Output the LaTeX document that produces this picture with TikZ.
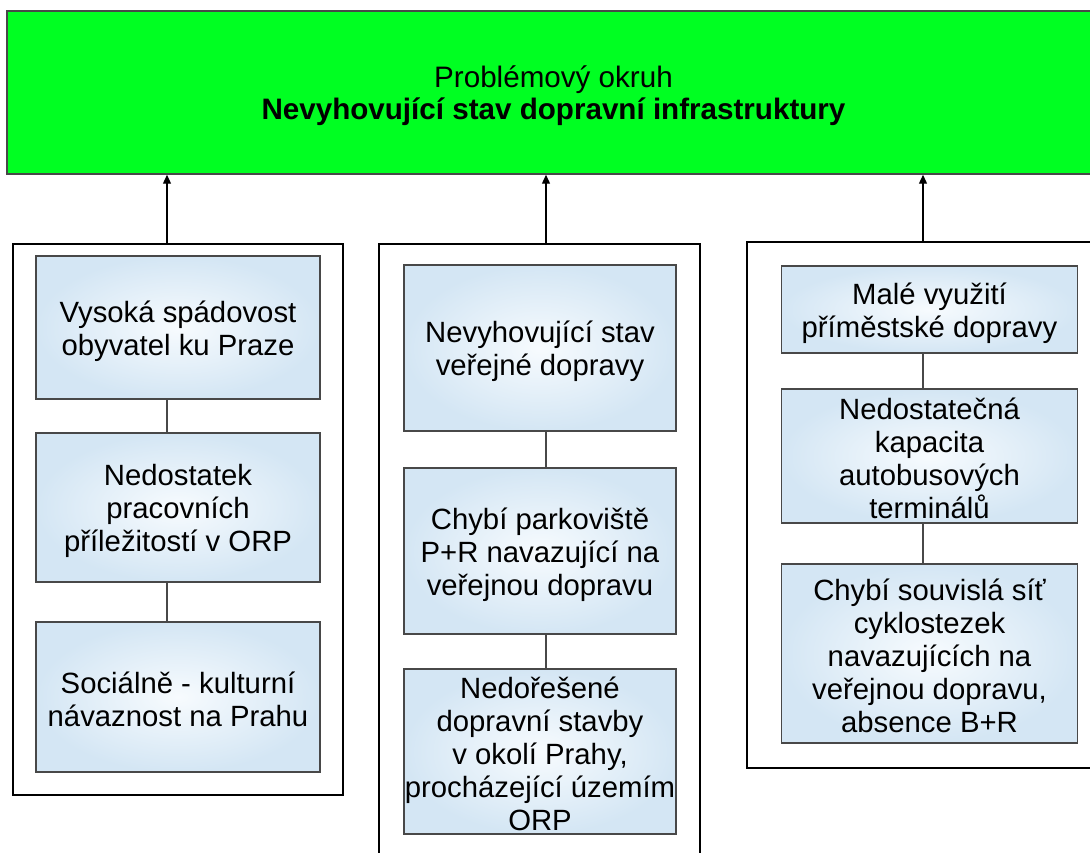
\documentclass[tikz,border=0pt]{standalone}
\usepackage{fontspec}
\setmainfont{Liberation Sans}
\usetikzlibrary{arrows.meta}
\definecolor{probgreen}{RGB}{0,255,34}
\definecolor{boxblue}{RGB}{212,230,244}
\definecolor{boxcore}{RGB}{247,251,254}
\definecolor{boxedge}{RGB}{72,72,72}
% struts keep first and last lines at fixed height and depth
\newcommand{\topln}{\rule{0pt}{29pt}}
\newcommand{\botln}{\rule[-4pt]{0pt}{4pt}}
\tikzset{
  causebox/.style={draw=boxedge, line width=1.6pt, inner color=boxcore, outer color=boxblue,
    align=center, inner sep=0pt, font=\fontsize{29.3}{33}\selectfont},
  groupbox/.style={draw=black, line width=2pt, inner sep=0pt},
  link/.style={draw=boxedge, line width=1.5pt},
  feeds/.style={draw=black, line width=1.3pt, -{Triangle[length=9pt,width=8pt]}},
}
\begin{document}
\begin{tikzpicture}[x=1pt,y=-1pt]
  \path[use as bounding box, fill=white] (0,0) rectangle (1090,853);
  \clip (0,0) rectangle (1090,853);

  % problem area
  \node[draw=boxedge, line width=1.5pt, fill=probgreen, minimum width=1093pt, minimum height=163pt,
        align=center, inner sep=0pt, font=\fontsize{29.6}{32}\selectfont] (prob) at (553.5,92.5)
    {\topln Problémový okruh\\\textbf{Nevyhovující stav dopravní infrastruktury}\botln};

  % groups
  \node[groupbox, minimum width=330pt, minimum height=551pt] (g1) at (178,519.5) {};
  \node[groupbox, minimum width=321pt, minimum height=636pt] (g2) at (539.5,562) {};
  \node[groupbox, minimum width=365pt, minimum height=526pt] (g3) at (929.5,505) {};

  \coordinate (ax1) at (167,0);
  \coordinate (ax2) at (546,0);
  \coordinate (ax3) at (923,0);

  % left column
  \node[causebox, minimum width=284pt, minimum height=143pt] (l1) at (178,327.5)
    {\topln Vysoká spádovost\\obyvatel ku Praze\botln};
  \node[causebox, minimum width=284pt, minimum height=149pt] (l2) at (178,507.5)
    {\topln Nedostatek\\pracovních\\příležitostí v ORP\botln};
  \node[causebox, minimum width=284pt, minimum height=150pt] (l3) at (178,697)
    {\topln Sociálně - kulturní\\návaznost na Prahu\botln};

  % middle column
  \node[causebox, minimum width=272pt, minimum height=166pt] (m1) at (540,348)
    {\topln Nevyhovující stav\\veřejné dopravy\botln};
  \node[causebox, minimum width=272pt, minimum height=166pt] (m2) at (540,551)
    {\topln Chybí parkoviště\\P+R navazující na\\veřejnou dopravu\botln};
  \node[causebox, minimum width=272pt, minimum height=165pt] (m3) at (540,751.5)
    {\topln Nedořešené\\dopravní stavby\\v okolí Prahy,\\procházející územím\\ORP\botln};

  % right column
  \node[causebox, minimum width=296pt, minimum height=87pt] (r1) at (929.5,309.5)
    {\topln Malé využití\\příměstské dopravy\botln};
  \node[causebox, minimum width=296pt, minimum height=134pt] (r2) at (929.5,456)
    {\topln Nedostatečná\\kapacita\\autobusových\\terminálů\botln};
  \node[causebox, minimum width=296pt, minimum height=179pt] (r3) at (929.5,653.5)
    {\topln Chybí souvislá síť\\cyklostezek\\navazujících na\\veřejnou dopravu,\\absence B+R\botln};

  % connectors
  \draw[link] (l1.south -| ax1) -- (l2.north -| ax1);
  \draw[link] (l2.south -| ax1) -- (l3.north -| ax1);
  \draw[link] (m1.south -| ax2) -- (m2.north -| ax2);
  \draw[link] (m2.south -| ax2) -- (m3.north -| ax2);
  \draw[link] (r1.south -| ax3) -- (r2.north -| ax3);
  \draw[link] (r2.south -| ax3) -- (r3.north -| ax3);

  \draw[feeds] (g1.north -| ax1) -- (prob.south -| ax1);
  \draw[feeds] (g2.north -| ax2) -- (prob.south -| ax2);
  \draw[feeds] (g3.north -| ax3) -- (prob.south -| ax3);
\end{tikzpicture}
\end{document}
